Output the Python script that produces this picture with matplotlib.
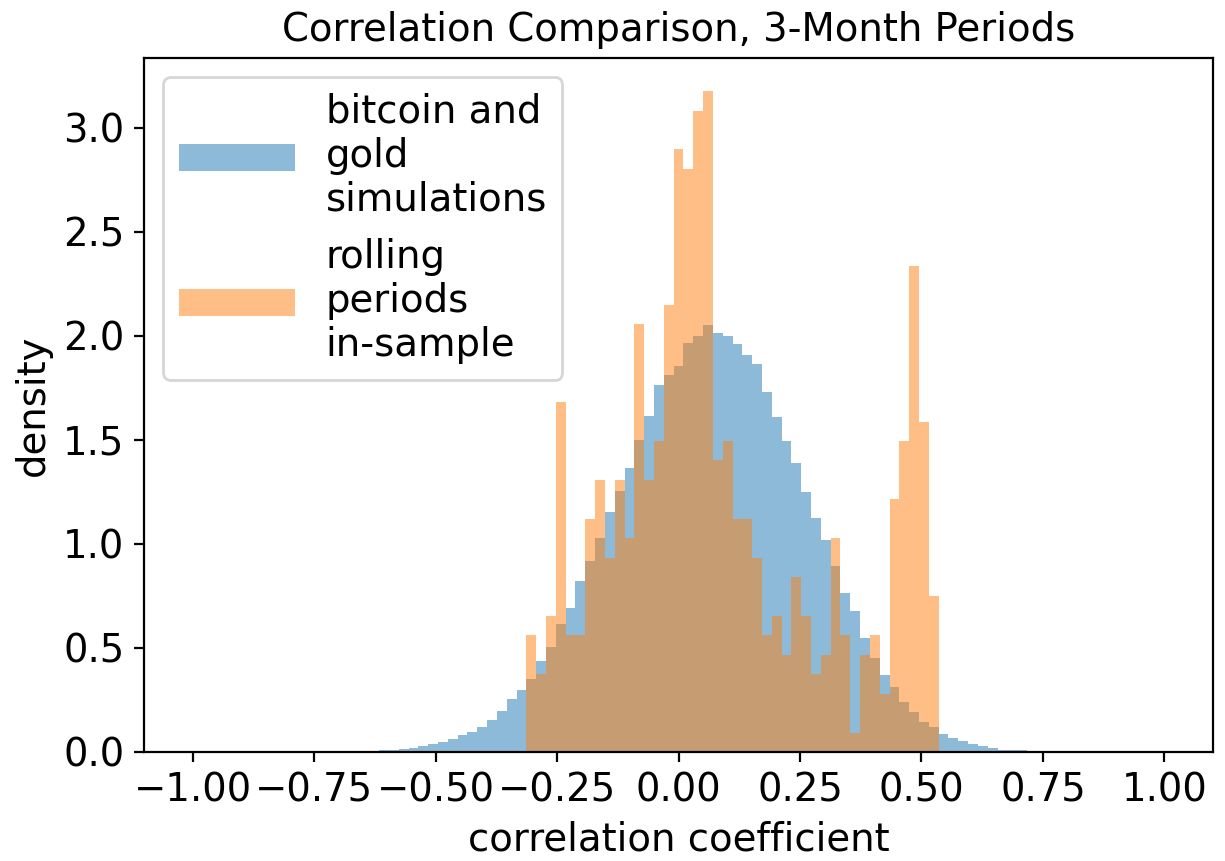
import numpy as np
import matplotlib.pyplot as plt

plt.rcParams['font.size'] = 13.9

# 99 equal bins spanning the full correlation range
bin_edges = np.linspace(-1, 1, 100)
bin_centers = (bin_edges[:-1] + bin_edges[1:]) / 2

# simulated bitcoin/gold correlations: density per bin, starting at bin 17
sim_start = 17
sim_density = [
    0.003, 0.005, 0.008, 0.010, 0.014, 0.020, 0.029, 0.038, 0.047, 0.061,
    0.081, 0.096, 0.120, 0.154, 0.197, 0.254, 0.297, 0.350, 0.437, 0.504,
    0.614, 0.691, 0.821, 0.917, 1.027, 1.152, 1.252, 1.363, 1.500, 1.612,
    1.761, 1.810, 1.855, 1.965, 2.000, 2.050, 2.015, 2.000, 1.960, 1.905,
    1.862, 1.727, 1.607, 1.492, 1.387, 1.248, 1.123, 1.017, 0.893, 0.763,
    0.677, 0.548, 0.452, 0.370, 0.312, 0.240, 0.192, 0.144, 0.120, 0.086,
    0.067, 0.053, 0.038, 0.029, 0.019, 0.010, 0.010, 0.008, 0.003,
]

# rolling in-sample periods: counts per bin, starting at bin 34
roll_start = 34
roll_counts = [
    6, 4, 7, 18, 6, 6, 12, 14, 10, 14,
    11, 22, 14, 16, 23, 31, 30, 33, 34, 15,
    16, 12, 12, 10, 6, 7, 5, 9, 7, 4,
    5, 11, 6, 1, 5, 6, 3, 13, 16, 25,
    17, 8,
]


def full_weights(start, values):
    w = np.zeros(len(bin_centers))
    w[start:start + len(values)] = values
    return w


fig, ax = plt.subplots(figsize=(6.125, 4.305), dpi=200)
fig.subplots_adjust(left=0.1176, right=0.9902, bottom=0.1266, top=0.9326)

ax.hist(bin_centers, bins=bin_edges, weights=full_weights(sim_start, sim_density),
        density=True, alpha=0.5, label='bitcoin and\ngold\nsimulations')
ax.hist(bin_centers, bins=bin_edges, weights=full_weights(roll_start, roll_counts),
        density=True, alpha=0.5, label='rolling\nperiods\nin-sample')

ax.set_title('Correlation Comparison, 3-Month Periods', fontsize=13.9)
ax.set_xlabel('correlation coefficient')
ax.set_ylabel('density')
ax.legend(loc='upper left', handlelength=3.0)

fig.savefig('out.png')
